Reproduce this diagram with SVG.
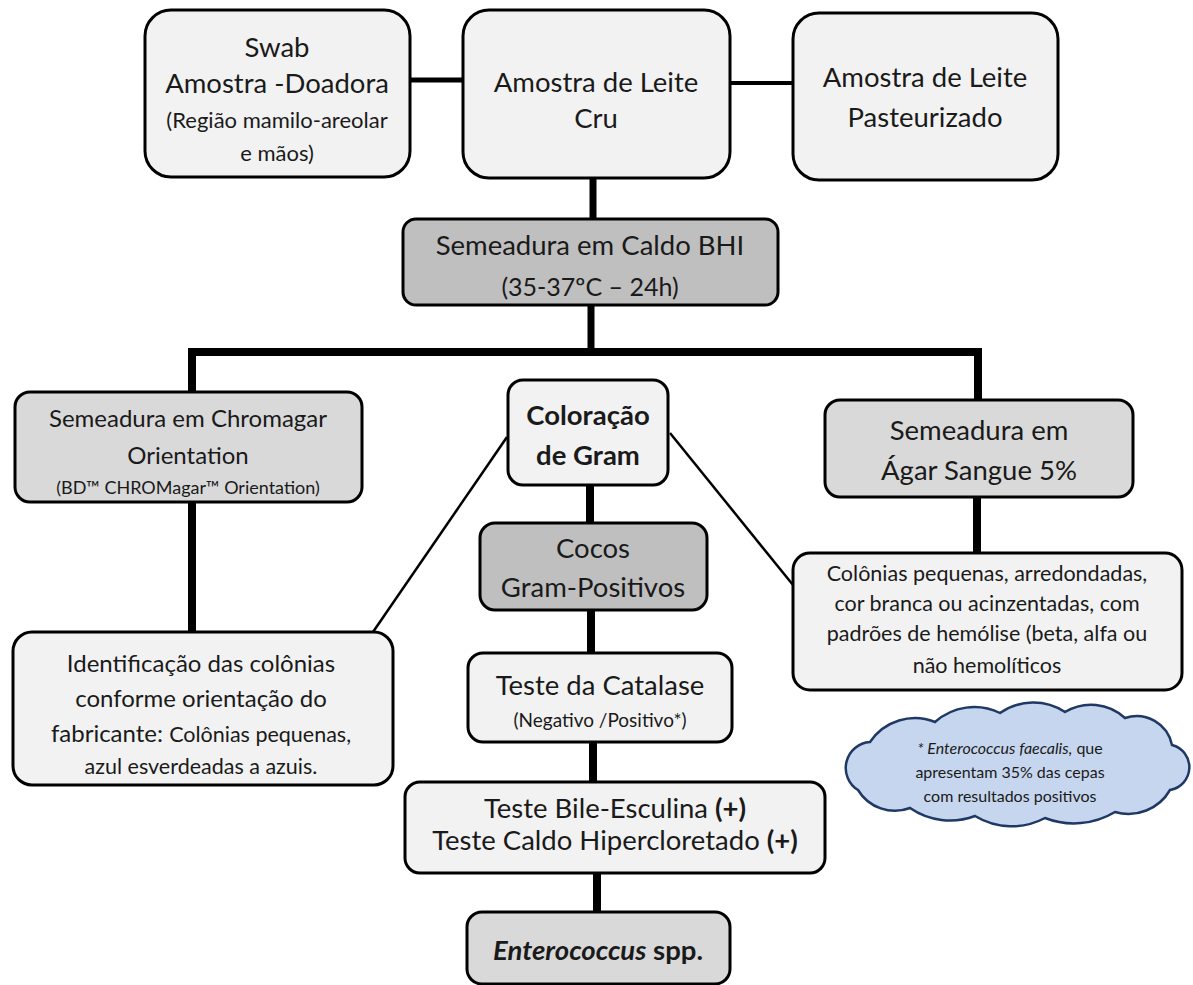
<svg xmlns="http://www.w3.org/2000/svg" width="1193" height="985" viewBox="0 0 1193 985">
<style>
.box{stroke:#000;stroke-width:3}
.l1{fill:#f2f2f2}
.l2{fill:#d9d9d9}
.l3{fill:#bfbfbf}
text{font-family:Lato,"Open Sans","Liberation Sans",sans-serif;fill:#1a1a1a;text-anchor:middle}
.f27{font-size:27.5px}
.f25{font-size:25px}
.f24{font-size:24px}
.f22{font-size:22px}
.f21{font-size:21.5px}
.f19{font-size:19px}
.f18{font-size:18px}
.f16{font-size:16px}
.b{font-weight:bold}
.i{font-style:italic}
.thick{stroke:#000;stroke-width:8;fill:none}
.mid{stroke:#000;stroke-width:5;fill:none}
.thin{stroke:#000;stroke-width:2.5;fill:none}
</style>
<rect width="1193" height="985" fill="#fff"/>
<g id="connectors">
<line class="mid" x1="410" y1="80" x2="463" y2="80"/>
<line class="mid" x1="730" y1="83" x2="793" y2="83" style="stroke-width:4"/>
<line class="thick" x1="593" y1="178" x2="593" y2="219" style="stroke-width:7"/>
<line class="thick" x1="591" y1="305" x2="591" y2="352" style="stroke-width:7"/>
<path class="thick" d="M192,392 V352 H978 V400"/>
<line class="thick" x1="192" y1="502" x2="192" y2="632"/>
<line class="thick" x1="977" y1="497" x2="977" y2="553"/>
<line class="thick" x1="590" y1="485" x2="590" y2="523"/>
<line class="thick" x1="591" y1="610" x2="591" y2="653"/>
<line class="thick" x1="593" y1="742" x2="593" y2="782"/>
<line class="thick" x1="597" y1="873" x2="597" y2="912"/>
<line class="thin" x1="507" y1="437" x2="373" y2="632"/>
<line class="thin" x1="670" y1="433" x2="793" y2="585"/>
</g>
<g id="swab">
<rect class="box l1" x="145" y="10" width="265" height="167" rx="26"/>
<text class="f27" x="277" y="57">Swab</text>
<text class="f27" x="277" y="93">Amostra -Doadora</text>
<text class="f22" x="277" y="128">(Região mamilo-areolar</text>
<text class="f22" x="277" y="161">e mãos)</text>
</g>
<g id="leite-cru">
<rect class="box l1" x="463" y="10" width="267" height="168" rx="26"/>
<text class="f27" x="596" y="92">Amostra de Leite</text>
<text class="f27" x="596" y="128">Cru</text>
</g>
<g id="leite-past">
<rect class="box l1" x="793" y="13" width="265" height="167" rx="26"/>
<text class="f27" x="925" y="87">Amostra de Leite</text>
<text class="f27" x="925" y="127">Pasteurizado</text>
</g>
<g id="bhi">
<rect class="box l3" x="403" y="219" width="375" height="86" rx="13"/>
<text class="f27" x="590" y="255">Semeadura em Caldo BHI</text>
<text class="f25" x="590" y="296">(35-37ºC – 24h)</text>
</g>
<g id="chromagar">
<rect class="box l2" x="15" y="392" width="347" height="110" rx="15"/>
<text class="f24" x="188" y="427">Semeadura em Chromagar</text>
<text class="f24" x="188" y="464">Orientation</text>
<text class="f18" x="188" y="494">(BD™ CHROMagar™ Orientation)</text>
</g>
<g id="gram">
<rect class="box l1" x="508" y="380" width="160" height="105" rx="15"/>
<text class="f27 b" x="588" y="425">Coloração</text>
<text class="f27 b" x="588" y="465">de Gram</text>
</g>
<g id="agar">
<rect class="box l2" x="825" y="400" width="308" height="97" rx="15"/>
<text class="f27" x="979" y="440">Semeadura em</text>
<text class="f27" x="979" y="480">Ágar Sangue 5%</text>
</g>
<g id="cocos">
<rect class="box l3" x="480" y="523" width="227" height="87" rx="15"/>
<text class="f27" x="593" y="558">Cocos</text>
<text class="f27" x="593" y="597">Gram-Positivos</text>
</g>
<g id="colonias">
<rect class="box l1" x="793" y="553" width="389" height="137" rx="17"/>
<text class="f21" x="987" y="581">Colônias pequenas, arredondadas,</text>
<text class="f21" x="987" y="611">cor branca ou acinzentadas, com</text>
<text class="f21" x="987" y="641">padrões de hemólise (beta, alfa ou</text>
<text class="f21" x="987" y="673">não hemolíticos</text>
</g>
<g id="identificacao">
<rect class="box l1" x="13" y="632" width="380" height="153" rx="19"/>
<text class="f24" x="201" y="672">Identificação das colônias</text>
<text class="f24" x="201" y="707">conforme orientação do</text>
<text class="f24" x="201" y="742">fabricante: <tspan class="f21">Colônias pequenas,</tspan></text>
<text class="f21" x="201" y="774">azul esverdeadas a azuis.</text>
</g>
<g id="catalase">
<rect class="box l1" x="468" y="653" width="264" height="89" rx="15"/>
<text class="f27" x="600" y="695">Teste da Catalase</text>
<text class="f19" x="600" y="727">(Negativo /Positivo*)</text>
</g>
<g id="bile">
<rect class="box l1" x="405" y="782" width="420" height="91" rx="15"/>
<text class="f27" x="615" y="818">Teste Bile-Esculina <tspan class="b">(+)</tspan></text>
<text class="f27" x="615" y="850">Teste Caldo Hipercloretado <tspan class="b">(+)</tspan></text>
</g>
<g id="enterococcus">
<rect class="box l2" x="467" y="912" width="263" height="72" rx="15"/>
<text class="f27 b" x="598" y="960"><tspan class="i">Enterococcus</tspan> spp.</text>
</g>
<g id="nota">
<path d="M858,790 A26,26 0 0 1 870,742 A54,54 0 0 1 935,722 A59,59 0 0 1 1000,713 A58,58 0 0 1 1065,712 A50,50 0 0 1 1125,718 A36,36 0 0 1 1172,745 A23,23 0 0 1 1170,790 A48,48 0 0 1 1115,812 A80,80 0 0 1 1045,818 A71,71 0 0 1 975,816 A71,71 0 0 1 910,808 A43,43 0 0 1 858,790 Z" fill="#c6d6ee" stroke="#1f3864" stroke-width="2.5"/>
<text class="f16" x="1010" y="754"><tspan class="i">* Enterococcus faecalis,</tspan> que</text>
<text class="f16" x="1010" y="778">apresentam 35% das cepas</text>
<text class="f16" x="1010" y="802">com resultados positivos</text>
</g>
</svg>
